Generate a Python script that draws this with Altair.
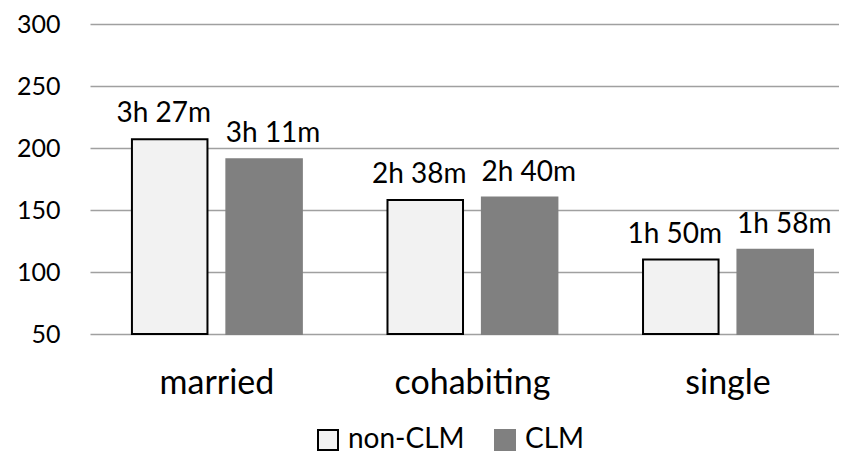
import altair as alt
import pandas as pd

categories = ["married", "cohabiting", "single"]
series = ["non-CLM", "CLM"]
non_clm = [207, 158, 110]
clm = [191, 160, 118]
labels_non = ["3h 27m", "2h 38m", "1h 50m"]
labels_clm = ["3h 11m", "2h 40m", "1h 58m"]

rows = []
for c, v, l in zip(categories, non_clm, labels_non):
    rows.append({"category": c, "series": "non-CLM", "value": v, "label": l})
for c, v, l in zip(categories, clm, labels_clm):
    rows.append({"category": c, "series": "CLM", "value": v, "label": l})
df = pd.DataFrame(rows)

FONT = "Lato"

x_enc = alt.X(
    "category:N",
    sort=categories,
    title=None,
    scale=alt.Scale(paddingInner=0.335, paddingOuter=0.133, align=0.617),
    axis=alt.Axis(labelFontSize=34, labelAngle=0, labelColor="black", ticks=False,
                  domain=False, labelPadding=59, labelBaseline="alphabetic", labelFont=FONT),
)
xoff = alt.XOffset("series:N", sort=series, scale=alt.Scale(paddingInner=0.2, paddingOuter=0))
y_enc = alt.Y(
    "value:Q",
    title=None,
    scale=alt.Scale(domain=[50, 300], nice=False, zero=False),
    axis=alt.Axis(values=[50, 100, 150, 200, 250, 300], labelFontSize=25, labelColor="black",
                  ticks=False, domain=False, labelPadding=30, gridColor="#a0a0a0",
                  gridWidth=1.5, labelFont=FONT),
)

legend = alt.Legend(title=None, orient="none", legendX=224, legendY=402, direction="horizontal",
                    symbolType="square", symbolSize=400, symbolStrokeWidth=2,
                    labelFontSize=28, labelFont=FONT, labelColor="black",
                    columnPadding=26, labelOffset=6)

bars = alt.Chart(df).mark_bar(strokeWidth=2).encode(
    x=x_enc,
    xOffset=xoff,
    y=y_enc,
    y2=alt.datum(50),
    fill=alt.Fill("series:N", sort=series,
                  scale=alt.Scale(domain=series, range=["#f2f2f2", "#808080"]),
                  legend=legend),
    stroke=alt.Stroke("series:N", sort=series,
                      scale=alt.Scale(domain=series, range=["#000000", "#808080"]),
                      legend=legend),
)

text_non = alt.Chart(df).transform_filter(alt.datum.series == "non-CLM").mark_text(
    fontSize=28, font=FONT, color="black", baseline="alphabetic", dy=-17, dx=-6
).encode(x=alt.X("category:N", sort=categories), xOffset=xoff, y="value:Q", text="label:N")

text_clm = alt.Chart(df).transform_filter(alt.datum.series == "CLM").mark_text(
    fontSize=28, font=FONT, color="black", baseline="alphabetic", dy=-17, dx=9
).encode(x=alt.X("category:N", sort=categories), xOffset=xoff, y="value:Q", text="label:N")

chart = alt.layer(bars, text_non, text_clm).properties(
    width=749, height=310,
    autosize=alt.AutoSizeParams(type="none"),
    padding={"left": 82, "top": 16, "right": 0, "bottom": 132},
).configure(font=FONT).configure_view(stroke=None)

chart.save("out.html", embed_options={"renderer": "svg", "actions": False})
